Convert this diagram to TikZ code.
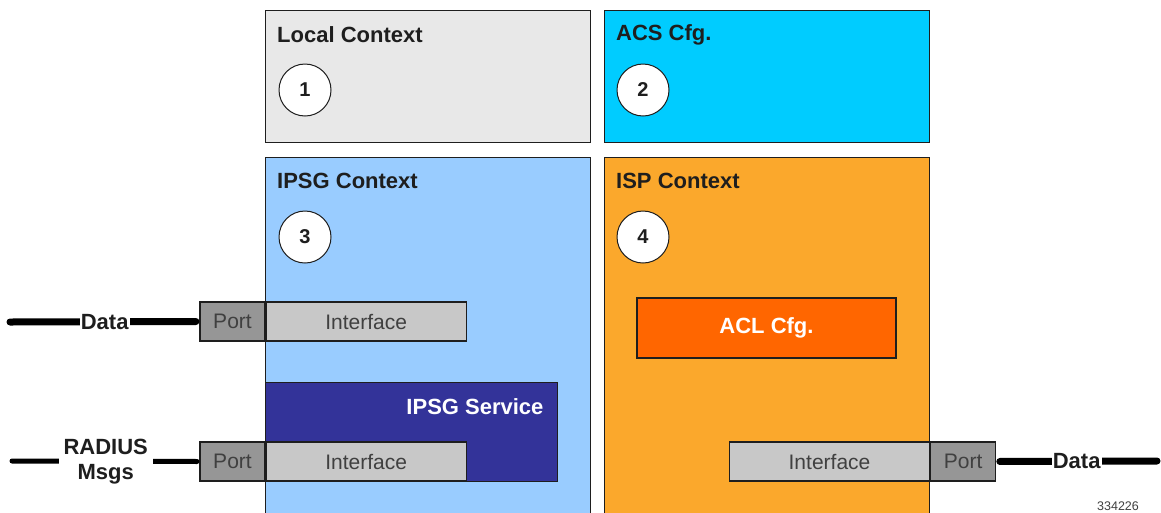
\documentclass[tikz,border=0pt]{standalone}
\usepackage{fontspec}
\setmainfont{Liberation Sans}
\usetikzlibrary{positioning}
\definecolor{localgray}{RGB}{232,232,232}
\definecolor{acscyan}{RGB}{0,204,255}
\definecolor{ipsgblue}{RGB}{153,204,255}
\definecolor{ispamber}{RGB}{251,168,44}
\definecolor{svcnavy}{RGB}{51,51,153}
\definecolor{aclorange}{RGB}{255,102,0}
\definecolor{portgray}{RGB}{150,150,150}
\definecolor{ifgray}{RGB}{200,200,200}
\definecolor{ink}{RGB}{30,30,30}
\tikzset{
  ctx/.style={draw=ink,line width=1.2pt,fill=#1,minimum width=325pt,inner sep=0pt,anchor=north west},
  ctxtitle/.style={font=\fontsize{22}{26}\selectfont\bfseries,text=ink,anchor=west,inner sep=0pt},
  num/.style={circle,draw=ink,line width=1pt,fill=white,minimum size=52pt,inner sep=0pt,
    font=\fontsize{20}{24}\selectfont\bfseries,text=ink},
  portbox/.style={draw=ink,line width=1.2pt,fill=portgray,minimum width=65pt,minimum height=39pt,
    inner sep=0pt,font=\fontsize{21}{24}\selectfont,text=black!75},
  ifbox/.style={portbox,fill=ifgray,minimum width=200pt},
  wire/.style={draw=black,line width=#1,line cap=round},
  wire/.default=7pt,
  wiretag/.style={fill=white,inner sep=1pt,font=\fontsize{22}{25}\selectfont\bfseries,text=ink,align=center},
}
\begin{document}
\begin{tikzpicture}[x=1pt,y=-1pt]
  \clip (0,0) rectangle (1161,512);
  \fill[white] (0,0) rectangle (1161,512);
  % contexts
  \node[ctx=localgray,minimum height=132pt] (local) at (265,10) {};
  \node[ctx=acscyan,minimum height=132pt] (acs) at (604,10) {};
  \node[ctx=ipsgblue,minimum height=370pt] (ipsg) at (265,157) {};
  \node[ctx=ispamber,minimum height=370pt] (isp) at (604,157) {};
  \node[ctxtitle] (localtitle) at (277,35) {Local Context};
  \node[ctxtitle] (acstitle) at (616,35) {ACS Cfg.};
  \node[ctxtitle] (ipsgtitle) at (277,181) {IPSG Context};
  \node[ctxtitle] (isptitle) at (616,181) {ISP Context};
  \node[num] (n1) at (305,90) {1};
  \node[num] (n2) at (643,90) {2};
  \node[num] (n3) at (305,237) {3};
  \node[num] (n4) at (643,237) {4};
  % service and config
  \node[draw=ink,line width=1.2pt,fill=svcnavy,minimum width=292pt,minimum height=99pt,
    inner sep=0pt,anchor=north west] (svc) at (265,382) {};
  \node[anchor=east,text=white,font=\fontsize{22}{26}\selectfont\bfseries] (svctitle) at (547,407) {IPSG Service};
  \node[draw=ink,line width=1.2pt,fill=aclorange,minimum width=259pt,minimum height=60pt,
    inner sep=0pt,text=white,font=\fontsize{22}{26}\selectfont\bfseries] (acl) at (766.5,328) {ACL Cfg.};
  % ports and interfaces
  \node[portbox] (dataport) at (232.5,321.5) {Port};
  \node[ifbox,right=0pt of dataport] (dataif) {Interface};
  \node[portbox] (radport) at (232.5,461.5) {Port};
  \node[ifbox,right=0pt of radport] (radif) {Interface};
  \node[ifbox] (ispif) at (829.5,461.5) {Interface};
  \node[portbox,right=0pt of ispif] (ispport) {Port};
  % wires
  \coordinate (dataL) at (10,322);
  \coordinate (radL) at (12,461);
  \coordinate (dataR) at (1157,461);
  \draw[wire,shorten >=3.5pt] (dataL) -- (dataport.west) node[midway,wiretag] (datatag) {Data};
  \draw[wire=5pt,shorten >=2.5pt] (radL) -- (radport.west) node[midway,wiretag,inner sep=5pt] (radtag) {RADIUS\\Msgs};
  \draw[wire,shorten <=3.5pt] (ispport.east) -- (dataR) node[midway,wiretag] (datatagR) {Data};
  \node[font=\fontsize{12.5}{14}\selectfont,text=black!75] (figid) at (1118,506) {334226};
\end{tikzpicture}
\end{document}
